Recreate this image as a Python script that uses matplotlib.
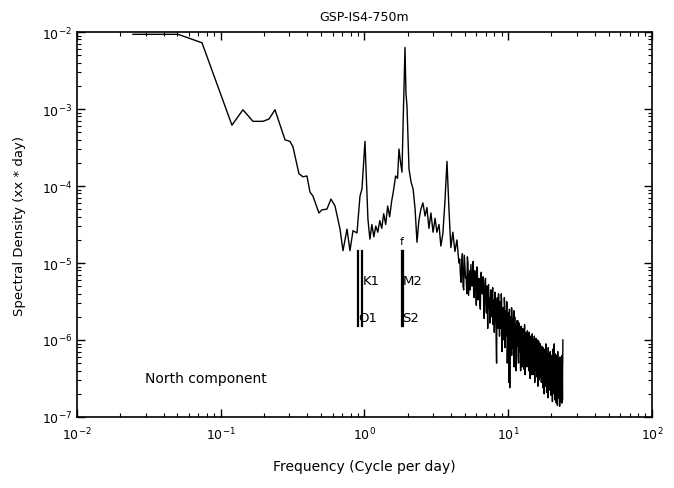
import numpy as np
import matplotlib
matplotlib.use("Agg")
import matplotlib.pyplot as plt

# ========== DATA ==========

# low / mid frequency part, cycles per day and log10 spectral density
lf_freq = [0.0245, 0.0505, 0.0741, 0.1197, 0.1428, 0.1675, 0.1967, 0.2167, 0.2385,
           0.280, 0.303, 0.318, 0.350, 0.373, 0.398, 0.418, 0.438, 0.482, 0.506,
           0.548, 0.585, 0.624, 0.676, 0.709, 0.756, 0.793, 0.832, 0.887, 0.931,
           0.961, 1.008, 1.057, 1.091, 1.126, 1.162, 1.199, 1.238, 1.278, 1.319,
           1.361, 1.405, 1.450, 1.497, 1.545, 1.595, 1.646, 1.699, 1.738, 1.784,
           1.824, 1.853, 1.914, 1.944, 1.976, 2.041, 2.110, 2.180, 2.250, 2.320,
           2.390, 2.470, 2.550, 2.640, 2.720, 2.810, 2.900, 3.000, 3.100, 3.190,
           3.300, 3.400, 3.510, 3.630, 3.750, 3.870, 3.990, 4.120, 4.260, 4.400,
           4.540]
lf_logpsd = [-2.03, -2.03, -2.14, -3.21, -3.01, -3.16, -3.16, -3.13, -3.01,
             -3.40, -3.42, -3.49, -3.84, -3.88, -3.87, -4.08, -4.13, -4.35, -4.31,
             -4.30, -4.17, -4.26, -4.56, -4.84, -4.56, -4.84, -4.58, -4.61, -4.13,
             -4.04, -3.42, -4.43, -4.69, -4.50, -4.66, -4.52, -4.60, -4.45, -4.55,
             -4.36, -4.50, -4.26, -4.40, -4.20, -4.05, -3.87, -3.90, -3.52, -3.70,
             -3.82, -3.26, -2.20, -2.80, -2.96, -3.78, -3.95, -4.04, -4.30, -4.73,
             -4.45, -4.30, -4.22, -4.39, -4.28, -4.55, -4.35, -4.60, -4.42, -4.60,
             -4.50, -4.78, -4.62, -4.20, -3.68, -4.30, -4.80, -4.60, -4.85, -4.70,
             -5.00]

# high frequency part, 4.6 .. 24 cpd every 0.1 cpd
hf_logpsd = [
    -4.95, -5.25, -4.88, -5.35, -5.05, -5.18, -4.92, -5.42, -5.10, -5.02,
    -5.30, -4.98, -5.45, -5.15, -5.55, -5.08, -5.35, -5.22, -5.60, -5.12,
    -5.40, -5.18, -5.72, -5.25, -5.50, -5.30, -5.85, -5.28, -5.45, -5.62,
    -5.35, -5.70, -5.32, -5.55, -5.90, -5.38, -5.65, -6.30, -5.45, -5.75,
    -5.42, -5.95, -5.50, -5.68, -5.48, -6.05, -5.58, -5.80, -5.45, -6.10,
    -5.62, -5.85, -5.52, -6.00, -5.70, -6.55, -5.60, -5.92, -5.75, -6.20,
    -5.65, -6.10, -5.72, -5.95, -6.35, -5.70, -6.05, -5.85, -6.25, -5.75,
    -6.00, -5.80, -6.30, -5.78, -6.15, -5.90, -6.40, -5.82, -6.05, -6.20,
    -5.85, -6.30, -5.95, -6.10, -5.80, -6.45, -5.92, -6.15, -6.00, -6.35,
    -5.88, -6.20, -6.05, -6.40, -5.90, -6.12, -6.50, -5.95, -6.25, -6.05,
    -6.30, -5.92, -6.18, -6.45, -6.00, -6.28, -5.95, -6.55, -6.10, -6.22,
    -5.98, -6.40, -6.12, -6.30, -6.05, -6.60, -6.15, -6.02, -6.35, -6.20,
    -6.48, -6.05, -6.30, -6.15, -6.55, -6.08, -6.38, -6.22, -6.62, -6.10,
    -6.35, -6.25, -6.70, -6.12, -6.42, -6.20, -6.55, -6.05, -6.33, -6.68,
    -6.18, -6.45, -6.25, -6.75, -6.10, -6.38, -6.52, -6.22, -6.65, -6.30,
    -6.15, -6.50, -6.35, -6.72, -6.20, -6.45, -6.28, -6.80, -6.12, -6.40,
    -6.55, -6.25, -6.70, -6.05, -6.48, -6.32, -6.78, -6.18, -6.58, -6.35,
    -6.82, -6.20, -6.50, -6.40, -6.85, -6.15, -6.62, -6.30, -6.75, -6.25,
    -6.55, -6.45, -6.86, -6.22, -6.60, -6.38, -6.80, -6.28, -6.65, -6.45,
    -6.82, -6.20, -6.70, -6.35, -6.00,
]
hf_freq = np.linspace(4.6, 24.0, len(hf_logpsd))

# in-between estimates, 4.65 .. 23.95 cpd every 0.1 cpd
hf2_logpsd = [
    -5.15, -5.00, -5.30, -4.90, -5.20, -5.40, -5.00, -5.25, -5.35, -5.15,
    -5.20, -5.38, -5.10, -5.28, -5.05, -5.48, -5.20, -5.52, -5.15, -5.35,
    -5.25, -5.55, -5.35, -5.20, -5.65, -5.42, -5.30, -5.58, -5.78, -5.35,
    -5.55, -5.40, -5.80, -5.48, -5.62, -5.50, -6.05, -5.52, -5.85, -5.40,
    -5.70, -5.52, -5.85, -5.40, -6.15, -5.62, -5.75, -6.00, -5.55, -5.82,
    -5.95, -5.50, -6.30, -5.78, -5.65, -5.88, -6.62, -5.70, -6.05, -5.58,
    -5.90, -5.78, -6.20, -5.62, -6.00, -6.15, -5.80, -6.40, -5.88, -6.08,
    -5.75, -6.22, -5.95, -6.08, -5.85, -6.28, -6.00, -5.90, -6.35, -5.95,
    -6.15, -6.02, -6.38, -5.88, -6.22, -6.08, -5.90, -6.28, -6.12, -5.95,
    -6.30, -6.00, -6.15, -5.92, -6.38, -6.20, -6.02, -6.32, -5.98, -6.45,
    -6.08, -6.15, -6.35, -6.05, -6.42, -6.12, -6.25, -6.02, -6.38, -6.15,
    -6.28, -6.10, -6.48, -6.22, -6.00, -6.35, -6.25, -6.52, -6.12, -6.40,
    -6.20, -6.40, -6.10, -6.45, -6.28, -6.18, -6.50, -6.30, -6.15, -6.42,
    -6.22, -6.50, -6.35, -6.18, -6.60, -6.30, -6.15, -6.45, -6.28, -6.20,
    -6.40, -6.30, -6.58, -6.20, -6.48, -6.25, -6.35, -6.62, -6.18, -6.42,
    -6.32, -6.25, -6.60, -6.45, -6.28, -6.65, -6.38, -6.22, -6.55, -6.30,
    -6.40, -6.62, -6.30, -6.50, -6.22, -6.70, -6.42, -6.28, -6.48, -6.60,
    -6.35, -6.55, -6.28, -6.68, -6.42, -6.30, -6.75, -6.48, -6.38, -6.62,
    -6.40, -6.70, -6.32, -6.55, -6.48, -6.78, -6.35, -6.58, -6.42, -6.72,
    -6.55, -6.40, -6.78, -6.30,
]
hf2_freq = np.linspace(4.65, 23.95, len(hf2_logpsd))

# tidal constituent markers (positions as drawn on the plot)
tide_names = ["O1", "K1", "M2", "S2"]
tide_freq = [0.906, 0.965, 1.815, 1.862]

# ========== PLOT ==========

freq = np.concatenate([lf_freq, hf_freq, hf2_freq])
logpsd = np.concatenate([lf_logpsd, hf_logpsd, hf2_logpsd])
order = np.argsort(freq)
freq = freq[order]
psd = 10.0 ** logpsd[order]

fig = plt.figure(figsize=(6.74, 4.89), dpi=100)
ax = fig.add_axes([0.1142, 0.1452, 0.8531, 0.7873])

ax.plot(freq, psd, color="black", linewidth=1.0)

ax.set_xscale("log")
ax.set_yscale("log")
ax.set_xlim(1e-2, 1e2)
ax.set_ylim(1e-7, 1e-2)

# marker lines for the tides
for f in tide_freq:
    ax.plot([f, f], [10 ** -5.82, 10 ** -4.84], color="black", linewidth=1.6)

ax.text(0.97, 10 ** -5.23, "K1", fontsize=9.5, va="center", ha="left")
ax.text(0.905, 10 ** -5.71, "O1", fontsize=9.5, va="center", ha="left")
ax.text(1.84, 10 ** -5.23, "M2", fontsize=9.5, va="center", ha="left")
ax.text(1.84, 10 ** -5.71, "S2", fontsize=9.5, va="center", ha="left")
ax.text(1.83, 10 ** -4.72, "f", fontsize=8, va="center", ha="center")

ax.text(0.0297, 10 ** -6.5, "North component", fontsize=10, va="center", ha="left")

ax.set_title("GSP-IS4-750m", fontsize=9, pad=9)
ax.set_xlabel("Frequency (Cycle per day)", fontsize=10, labelpad=12)
ax.set_ylabel("Spectral Density (xx * day)", fontsize=9.5, labelpad=11)

ax.tick_params(which="both", direction="in", top=True, right=True, labelsize=9)
ax.tick_params(which="major", length=6, width=1)
ax.tick_params(which="minor", length=3, width=0.8)
ax.tick_params(axis="x", pad=6)
for s in ax.spines.values():
    s.set_linewidth(1.2)

fig.savefig("out.png", dpi=100)
